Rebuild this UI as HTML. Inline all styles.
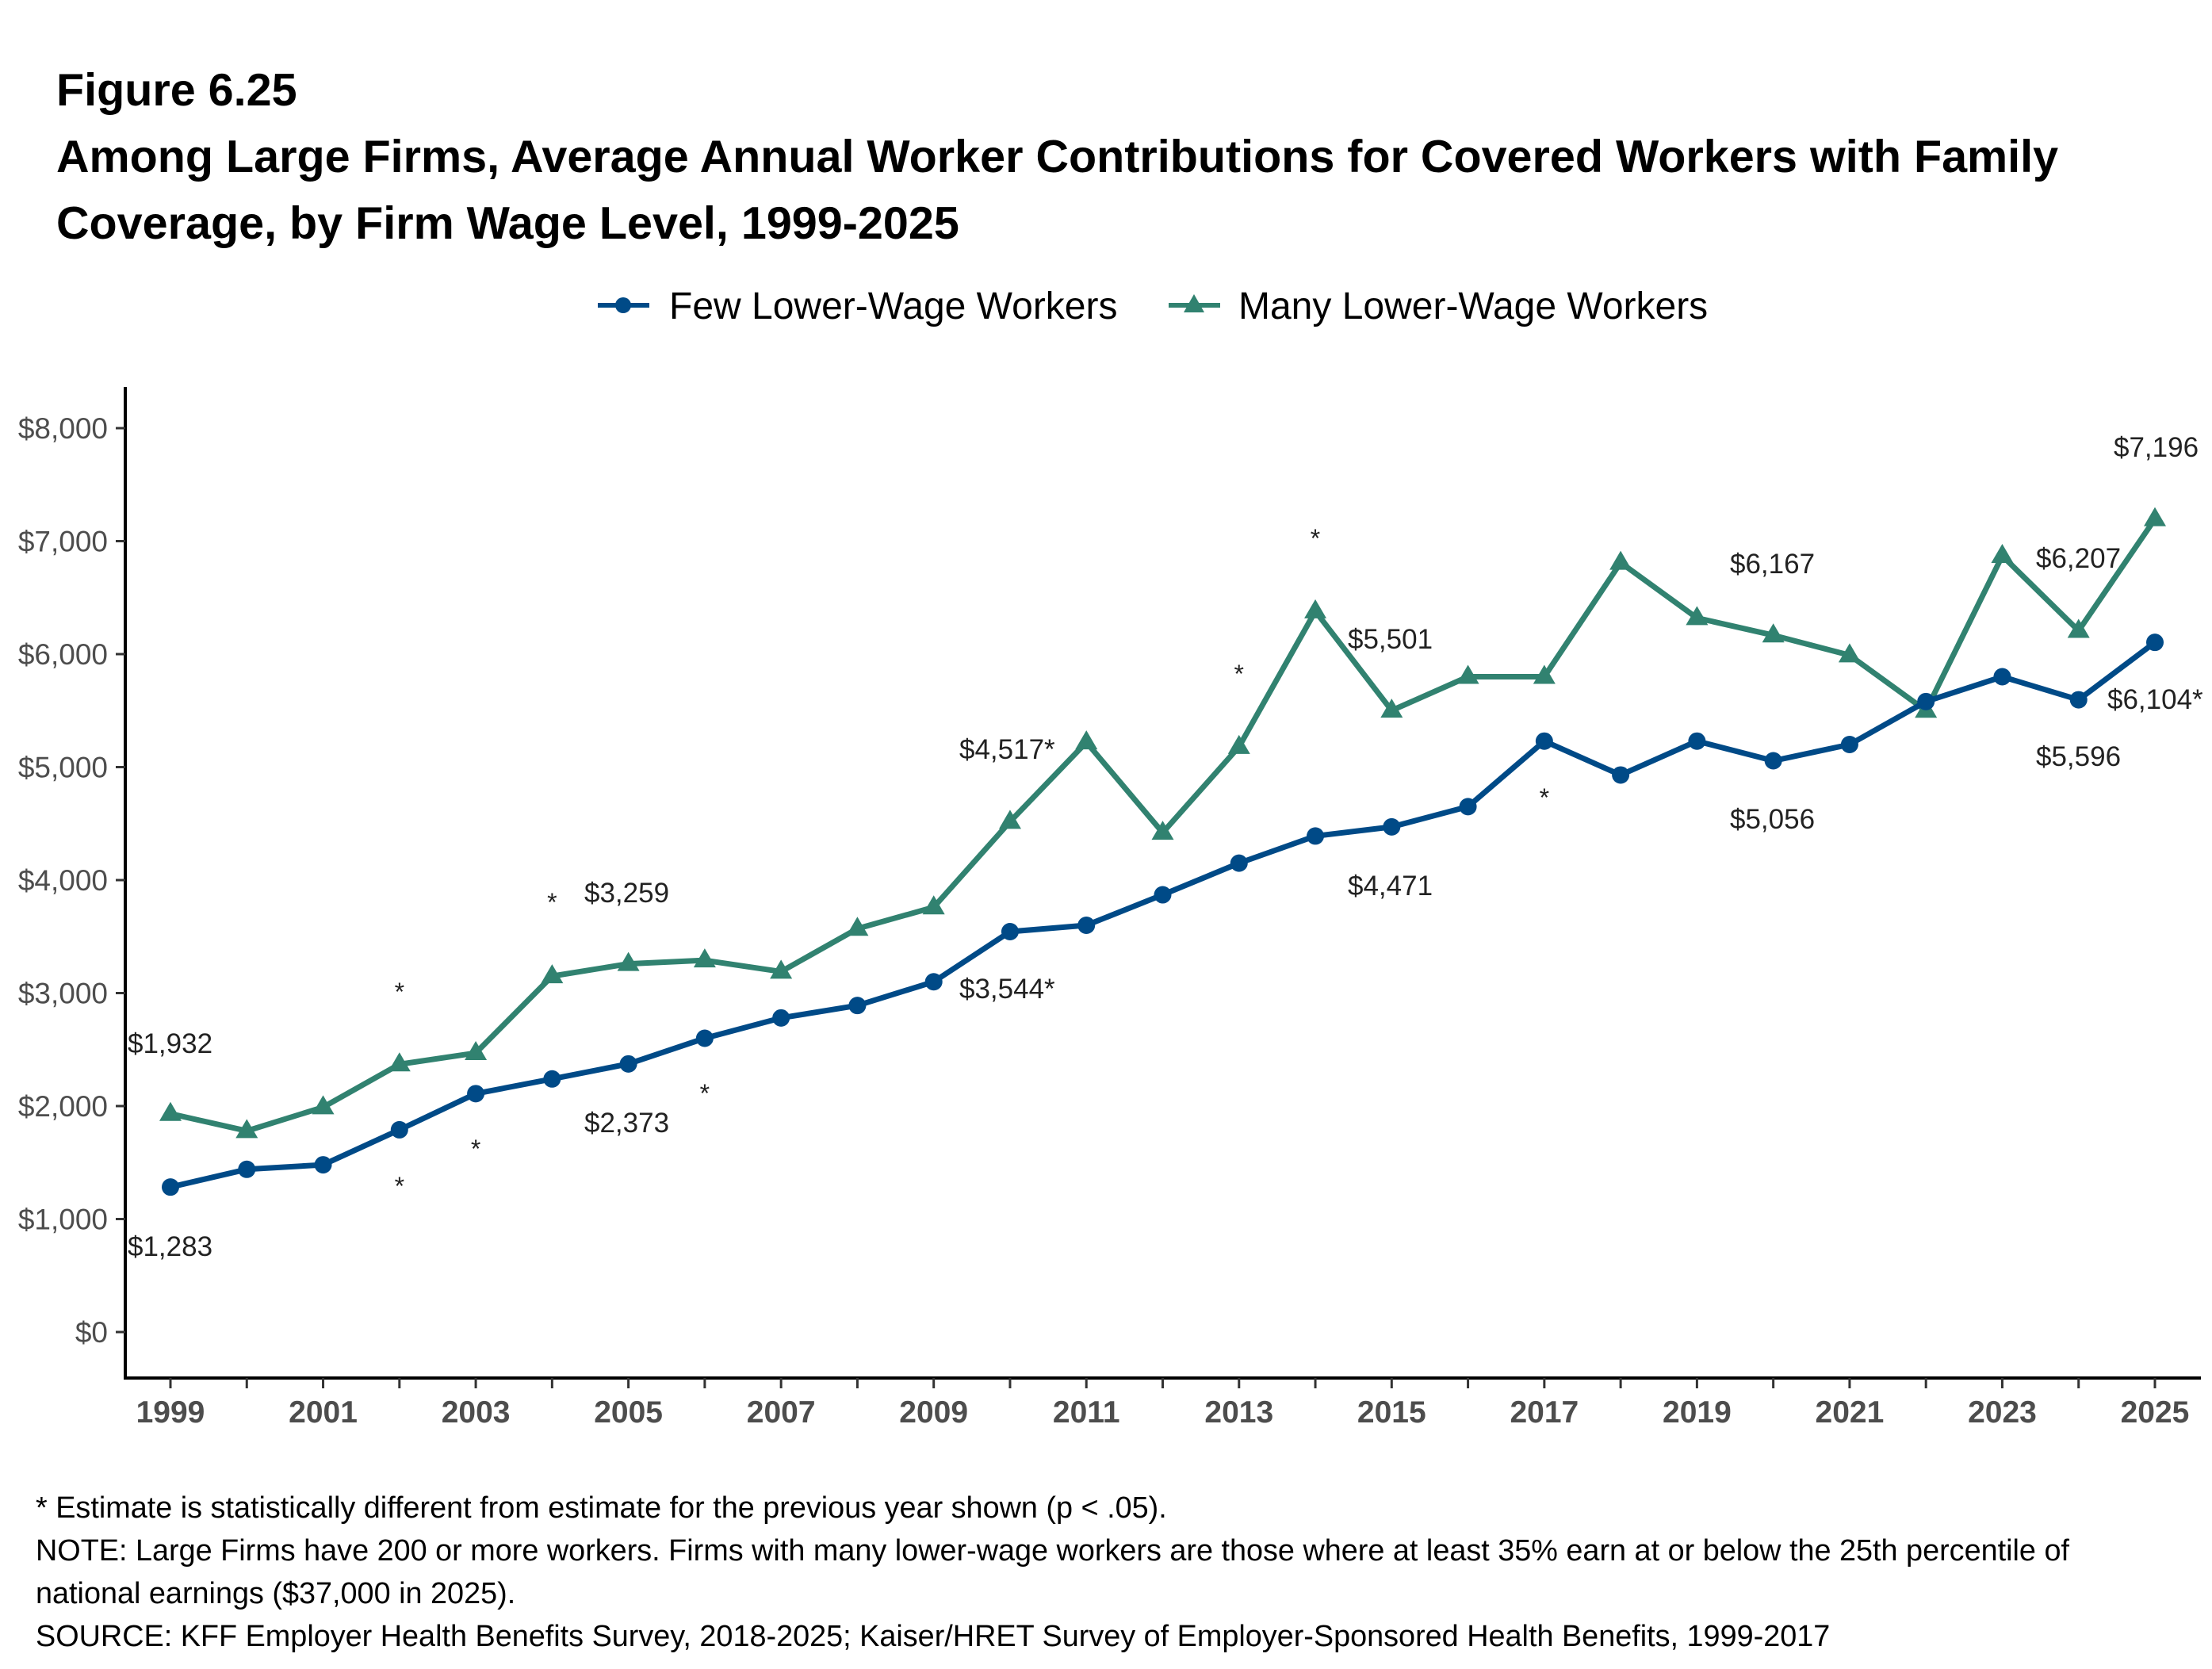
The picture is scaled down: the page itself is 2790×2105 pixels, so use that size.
<!DOCTYPE html>
<html><head><meta charset="utf-8">
<style>
html,body{margin:0;padding:0;background:#fff;}
body{width:2790px;height:2100px;overflow:hidden;font-family:"Liberation Sans",Arial,sans-serif;}
</style></head>
<body>
<svg id="chart" width="2790" height="2100" xmlns="http://www.w3.org/2000/svg" font-family="Liberation Sans, Arial, sans-serif">
<g font-weight="bold" font-size="57.5" fill="#000">
<text x="71" y="133">Figure 6.25</text>
<text x="71" y="217">Among Large Firms, Average Annual Worker Contributions for Covered Workers with Family</text>
<text x="71" y="301">Coverage, by Firm Wage Level, 1999-2025</text>
</g>
<g font-size="48" fill="#000">
<g>
<line x1="754" y1="385" x2="819" y2="385" stroke="#004a87" stroke-width="6"/>
<circle cx="786" cy="385" r="10" fill="#004a87"/>
<text x="844" y="402">Few Lower-Wage Workers</text>
</g>
<g>
<line x1="1474" y1="385" x2="1539" y2="385" stroke="#318270" stroke-width="6"/>
<polygon points="1506,371 1519,394 1493,394" fill="#318270"/>
<text x="1562" y="402">Many Lower-Wage Workers</text>
</g>
</g>
<g id="axes"></g>
<g id="marks"></g>
<g id="annots" font-size="35" fill="#222"></g>
<g font-size="37.8" fill="#000">
<text x="45" y="1914">* Estimate is statistically different from estimate for the previous year shown (p &lt; .05).</text>
<text x="45" y="1968">NOTE: Large Firms have 200 or more workers. Firms with many lower-wage workers are those where at least 35% earn at or below the 25th percentile of</text>
<text x="45" y="2022">national earnings ($37,000 in 2025).</text>
<text x="45" y="2076">SOURCE: KFF Employer Health Benefits Survey, 2018-2025; Kaiser/HRET Survey of Employer-Sponsored Health Benefits, 1999-2017</text>
</g>
</svg>
<script>
const years = [1999,2000,2001,2002,2003,2004,2005,2006,2007,2008,2009,2010,2011,2012,2013,2014,2015,2016,2017,2018,2019,2020,2021,2022,2023,2024,2025];
const fewValues = [1283,1440,1480,1790,2110,2240,2373,2600,2780,2890,3100,3544,3600,3870,4150,4390,4471,4650,5230,4930,5230,5056,5200,5580,5800,5596,6104];
const manyValues = [1932,1780,1990,2370,2470,3150,3259,3290,3190,3570,3760,4517,5220,4420,5180,6380,5501,5800,5800,6810,6320,6167,5990,5500,6870,6207,7196];
const yTicks = [0,1000,2000,3000,4000,5000,6000,7000,8000];
const yTickLabels = ["$0","$1,000","$2,000","$3,000","$4,000","$5,000","$6,000","$7,000","$8,000"];
const xTickLabels = ["1999","2001","2003","2005","2007","2009","2011","2013","2015","2017","2019","2021","2023","2025"];
const annotTexts = ["$1,932","$1,283","$3,259","$2,373","$3,544*","$4,517*","$5,501","$4,471","$6,167","$5,056","$6,207","$5,596","$7,196","$6,104*"];
const annotYears = [1999,1999,2005,2005,2010,2010,2015,2015,2020,2020,2024,2024,2025,2025];
const starYears = [2002,2002,2003,2004,2006,2013,2014,2017];

const NS="http://www.w3.org/2000/svg";
function xScale(yr){return 215+(yr-1999)*(2718-215)/26;}
function yScale(v){return 1680-v*(1680-540)/8000;}
function mk(tag,attrs,parent){const e=document.createElementNS(NS,tag);for(const k in attrs)e.setAttribute(k,attrs[k]);parent.appendChild(e);return e;}

const axes=document.getElementById('axes');
mk('line',{x1:158,y1:488,x2:158,y2:1740,stroke:'#000','stroke-width':4},axes);
mk('line',{x1:156,y1:1738,x2:2776,y2:1738,stroke:'#000','stroke-width':4},axes);
yTicks.forEach((t,i)=>{
  const y=yScale(t);
  const tk=mk('line',{x1:146,y1:y,x2:158,y2:y,stroke:'#333','stroke-width':3},axes);
  
  
  const lb=mk('text',{x:136,y:y+13,'text-anchor':'end','font-size':37,fill:'#4d4d4d'},axes);
  lb.textContent=yTickLabels[i];
  
  
});
years.forEach(yr=>{
  const x=xScale(yr);
  const tk=mk('line',{x1:x,y1:1738,x2:x,y2:1751,stroke:'#333','stroke-width':3},axes);
  
  
});
xTickLabels.forEach(l=>{
  const lb=mk('text',{x:xScale(+l),y:1794,'text-anchor':'middle','font-size':39,'font-weight':'bold',fill:'#4d4d4d'},axes);
  lb.textContent=l;
  
  
});

const marks=document.getElementById('marks');
function series(vals,color,kind,name){
  const g=mk('g',{},marks);
  
  
  const pts=vals.map((v,i)=>xScale(years[i])+','+yScale(v)).join(' ');
  const pl=mk('polyline',{points:pts,fill:'none',stroke:color,'stroke-width':7,'stroke-linejoin':'round'},g);
  
  
  vals.forEach((v,i)=>{
    const x=xScale(years[i]),y=yScale(v);
    let m;
    if(kind==='circle'){m=mk('circle',{cx:x,cy:y,r:11,fill:color},g);}
    else{m=mk('polygon',{points:`${x},${y-15} ${x+14},${y+9} ${x-14},${y+9}`,fill:color},g);}
    
    
  });
}
series(manyValues,'#318270','tri','many-lower-wage-series');
series(fewValues,'#004a87','circle','few-lower-wage-series');

const annots=document.getElementById('annots');
const annotY=[1316,1572,1126,1416,1247,945,806,1117,711,1033,704,954,564,882];
const lx=[161,161,737,737,1210,1210,1700,1700,2182,2182,2568,2568,2666,2658];
annotTexts.forEach((t,i)=>{
  const e=mk('text',{x:lx[i],y:annotY[i]+12},annots);
  e.textContent=t;
  
  
});
const starY=[1248,1493,1446,1135,1376,847,676,1003];
starYears.forEach((yr,i)=>{
  const e=mk('text',{x:xScale(yr),y:starY[i]+14,'text-anchor':'middle','font-size':32},annots);
  e.textContent='*';
  
  
});
</script>
</body></html>
